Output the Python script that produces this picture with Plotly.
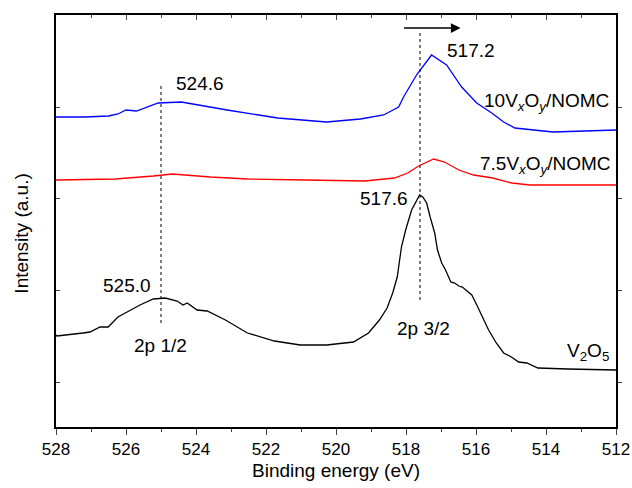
import plotly.graph_objects as go

# Binding energy (eV) and intensity (a.u.)
v2o5_energy = [528.0, 527.97, 527.23, 527.03, 526.74, 526.51, 526.23, 525.6, 525.22, 524.88, 524.54, 524.37,
               524.25, 523.97, 523.68, 523.16, 522.53, 521.76, 521.02, 520.27, 519.50, 519.07, 518.76,
               518.54, 518.38, 518.25, 518.13, 518.01, 517.84, 517.73, 517.61, 517.52, 517.41, 517.31,
               517.18, 517.10, 516.98, 516.87, 516.72, 516.61, 516.49, 516.39, 516.24, 516.12, 515.95,
               515.81, 515.64, 515.42, 515.21, 514.99, 514.78, 514.55, 514.23, 513.38, 512.0]
v2o5_int = [92, 91, 94, 95, 100, 100, 110, 122, 128, 129, 126, 122,
            124, 117, 116, 107, 94, 86, 82, 82, 85, 94, 107,
            119, 134, 150, 180, 197, 217, 225, 232, 230, 224, 210,
            194, 177, 164, 157, 145, 144, 141, 140, 135, 132, 120,
            110, 97, 84, 74, 70, 65, 64, 59, 58, 57]

red_energy = [528.0, 526.31, 525.22, 524.68, 523.59, 522.53, 520.90, 519.18, 518.33, 517.95, 517.64,
              517.21, 516.90, 516.49, 516.07, 515.52, 514.98, 514.46, 512.0]
red_int = [247, 248, 251, 253, 250, 248, 247, 246, 249, 254, 261,
           268, 265, 257, 252, 249, 244, 242, 242]

blue_energy = [528.0, 527.17, 526.5, 526.23, 526.0, 525.7, 525.08, 524.42, 523.11, 521.67, 520.27, 519.30,
               518.64, 518.21, 518.07, 517.70, 517.27, 516.84, 516.41, 515.98, 515.55, 515.21, 514.89,
               513.80, 512.0]
blue_int = [310, 310, 311, 313, 317, 316, 324, 325, 317, 309, 305, 308,
            312, 320, 330, 352, 372, 362, 340, 324, 314, 305, 299,
            295, 297]

x_ticks = [528, 526, 524, 522, 520, 518, 516, 514, 512]
y_ticks = [45, 137, 229, 320]

FONT = "Arial, Liberation Sans, sans-serif"

fig = go.Figure()
fig.add_trace(go.Scatter(x=blue_energy, y=blue_int, mode="lines",
                         line=dict(color="#0000ff", width=1.3), showlegend=False))
fig.add_trace(go.Scatter(x=red_energy, y=red_int, mode="lines",
                         line=dict(color="#ff0000", width=1.3), showlegend=False))
fig.add_trace(go.Scatter(x=v2o5_energy, y=v2o5_int, mode="lines",
                         line=dict(color="#000000", width=1.3), showlegend=False))
# invisible trace on mirrored axes
fig.add_trace(go.Scatter(x=[520], y=[200], xaxis="x2", yaxis="y2", mode="markers",
                         marker=dict(opacity=0), showlegend=False, hoverinfo="skip"))

# dotted guide lines
fig.add_trace(go.Scatter(x=[525.0, 525.0], y=[104, 344], mode="lines",
                         line=dict(color="black", width=1, dash="dot"), showlegend=False))
fig.add_trace(go.Scatter(x=[517.6, 517.6], y=[127, 394], mode="lines",
                         line=dict(color="black", width=1, dash="dot"), showlegend=False))

ann_font = dict(family=FONT, size=19, color="black")
anns = [
    dict(x=523.88, y=344, text="524.6", xanchor="center"),
    dict(x=516.15, y=377, text="517.2", xanchor="center"),
    dict(x=512.14, y=325, text="10V<sub><i>x</i></sub>O<sub><i>y</i></sub>/NOMC", xanchor="right"),
    dict(x=512.09, y=262, text="7.5V<sub><i>x</i></sub>O<sub><i>y</i></sub>/NOMC", xanchor="right"),
    dict(x=518.64, y=229, text="517.6", xanchor="center"),
    dict(x=525.97, y=142, text="525.0", xanchor="center"),
    dict(x=525.02, y=82, text="2p 1/2", xanchor="center"),
    dict(x=517.50, y=99, text="2p 3/2", xanchor="center"),
    dict(x=512.14, y=75, text="V<sub>2</sub>O<sub>5</sub>", xanchor="right"),
]
for a in anns:
    fig.add_annotation(xref="x", yref="y", showarrow=False, yanchor="middle", font=ann_font, **a)

# arrow
fig.add_annotation(x=516.44, y=399, ax=518.1, ay=399, xref="x", yref="y", axref="x", ayref="y",
                   showarrow=True, arrowhead=2, arrowsize=1.3, arrowwidth=1.5, arrowcolor="black", text="")

# y title
fig.add_annotation(xref="paper", yref="paper", x=-0.062, y=0.47, text="Intensity (a.u.)",
                   textangle=-90, showarrow=False, font=dict(family=FONT, size=19, color="black"),
                   xanchor="center", yanchor="middle")

fig.update_layout(
    width=632, height=488,
    margin=dict(l=56, r=16, t=15, b=61, autoexpand=False),
    paper_bgcolor="white", plot_bgcolor="white",
    font=dict(family=FONT, size=17, color="black"),
    xaxis=dict(range=[528, 512], tickvals=x_ticks, ticks="outside", ticklen=6, tickwidth=1.3,
               minor=dict(dtick=1, ticks="outside", ticklen=3, tickwidth=1.3), automargin=False,
               showline=True, linecolor="black", linewidth=1.5, showgrid=False, zeroline=False,
               tickfont=dict(size=17), title=dict(text="Binding energy (eV)", font=dict(size=19), standoff=6)),
    xaxis2=dict(range=[528, 512], overlaying="x", side="top", tickvals=x_ticks, ticks="inside",
                ticklen=5, tickwidth=1.3, showticklabels=False, automargin=False,
                minor=dict(dtick=1, ticks="inside", ticklen=3, tickwidth=1.3),
                showline=True, linecolor="black", linewidth=1.5, showgrid=False, zeroline=False),
    yaxis=dict(range=[0, 412], tickvals=y_ticks, ticks="inside", ticklen=4, tickwidth=1.3,
               showticklabels=False, showline=True, linecolor="black", linewidth=1.5,
               showgrid=False, zeroline=False, automargin=False),
    yaxis2=dict(range=[0, 412], overlaying="y", side="right", tickvals=y_ticks, ticks="outside",
                ticklen=4, tickwidth=1.3, showticklabels=False, showline=True, linecolor="black",
                linewidth=1.5, showgrid=False, zeroline=False, automargin=False),
)

fig.write_html("out.html")
